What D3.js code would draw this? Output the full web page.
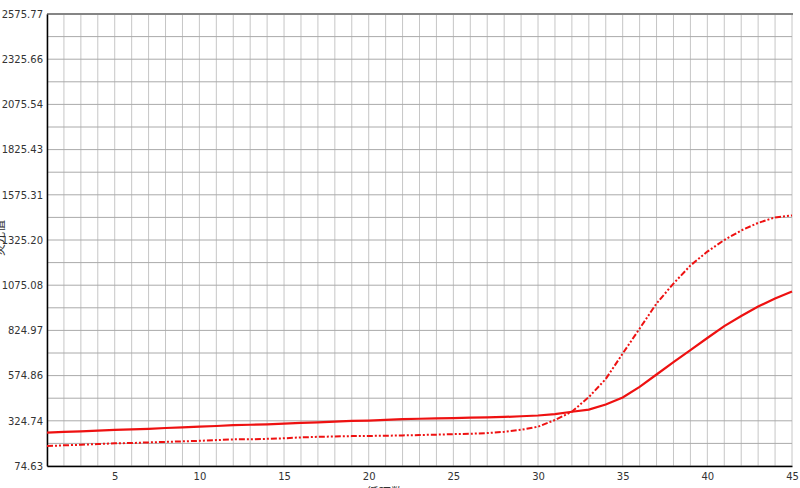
<!DOCTYPE html>
<html>
<head>
<meta charset="utf-8">
<script src="https://cdn.jsdelivr.net/npm/d3@7"></script>
<style>
  body { margin: 0; background: #fff; }
  svg { display: block; }
  .tick text { font-family: "DejaVu Sans", Verdana, sans-serif; font-size: 10px; fill: #333; }
</style>
</head>
<body>
<div class="svg-container"></div>
<script>
// cycles 1..45
const cycles = d3.range(1, 46);

// y tick labels (as printed)
const yTickLabels = ["74.63", "324.74", "574.86", "824.97", "1075.08", "1325.20",
  "1575.31", "1825.43", "2075.54", "2325.66", "2575.77"];
const xTickLabels = [5, 10, 15, 20, 25, 30, 35, 40, 45];

// solid curve
const seriesA = [259, 263, 266, 270, 274, 277, 280, 285, 288, 292,
  296, 301, 303, 305, 309, 313, 316, 320, 324, 326,
  330, 334, 336, 338, 340, 342, 344, 346, 350, 354,
  362, 375, 387, 415, 454, 512, 581, 650, 716, 783,
  849, 905, 957, 1001, 1040];

// dash-dot-dot curve
const seriesB = [185, 189, 192, 196, 200, 202, 205, 208, 211, 214,
  218, 222, 222, 225, 228, 233, 236, 238, 240, 241,
  242, 244, 246, 248, 251, 253, 257, 264, 275, 292,
  329, 375, 456, 556, 697, 835, 974, 1084, 1184, 1261,
  1325, 1378, 1420, 1450, 1461];

const W = 800, H = 488;
const plotL = 47, plotR = 792, plotT = 14, plotB = 466;

const svg = d3.select('.svg-container')
  .append('svg')
  .attr('width', W)
  .attr('height', H);

const yMin = +yTickLabels[0], yMax = +yTickLabels[yTickLabels.length - 1];

const x = d3.scaleLinear().domain([1, 45]).range([plotL, plotR]);
const y = d3.scaleLinear().domain([yMin, yMax]).range([plotB, plotT]);

// grid
svg.append('g').selectAll('line')
  .data(cycles)
  .enter().append('line')
    .attr('x1', d => x(d)).attr('x2', d => x(d))
    .attr('y1', plotT).attr('y2', plotB)
    .attr('stroke', '#c6c6c6')
    .attr('stroke-width', 1);

const step = (yMax - yMin) / 20;
const hVals = d3.range(0, 21).map(i => yMin + i * step);
svg.append('g').selectAll('line')
  .data(hVals)
  .enter().append('line')
    .attr('x1', plotL).attr('x2', plotR)
    .attr('y1', d => y(d)).attr('y2', d => y(d))
    .attr('stroke', '#aaaaaa')
    .attr('stroke-width', 1);

// top border
svg.append('line')
  .attr('x1', plotL).attr('x2', plotR + 1)
  .attr('y1', plotT).attr('y2', plotT)
  .attr('stroke', '#858585')
  .attr('stroke-width', 2);

// axes
const yAxis = d3.axisLeft(y)
  .tickValues(yTickLabels.map(Number))
  .tickFormat((d, i) => yTickLabels[i])
  .tickSize(0)
  .tickPadding(4);

svg.append('g')
  .attr('transform', `translate(${plotL},0)`)
  .call(yAxis)
  .call(g => g.select('.domain').attr('stroke', '#000').attr('stroke-width', 1.5));

const xAxis = d3.axisBottom(x)
  .tickValues(xTickLabels)
  .tickFormat(d3.format('d'))
  .tickSize(0)
  .tickPadding(7);

svg.append('g')
  .attr('transform', `translate(0,${plotB})`)
  .call(xAxis)
  .call(g => g.select('.domain').attr('stroke', '#000').attr('stroke-width', 1.5));

// curves
const line = d3.line()
  .x((d, i) => x(cycles[i]))
  .y(d => y(d));

svg.append('path')
  .datum(seriesB)
  .attr('d', line)
  .attr('fill', 'none')
  .attr('stroke', '#ee1111')
  .attr('stroke-width', 2)
  .attr('stroke-dasharray', '6,2,2,2,2,2');

svg.append('path')
  .datum(seriesA)
  .attr('d', line)
  .attr('fill', 'none')
  .attr('stroke', '#ee1111')
  .attr('stroke-width', 2.2);

// axis titles, mostly cut off by the frame
svg.append('text')
  .attr('transform', 'translate(4,238) rotate(-90)')
  .attr('text-anchor', 'middle')
  .style('font', '12px "Noto Sans CJK SC", sans-serif')
  .attr('fill', '#333')
  .text('荧光值');

svg.append('text')
  .attr('x', 385)
  .attr('y', 497)
  .attr('text-anchor', 'middle')
  .style('font', '12px "Noto Sans CJK SC", sans-serif')
  .attr('fill', '#333')
  .text('循环数');
</script>
</body>
</html>
